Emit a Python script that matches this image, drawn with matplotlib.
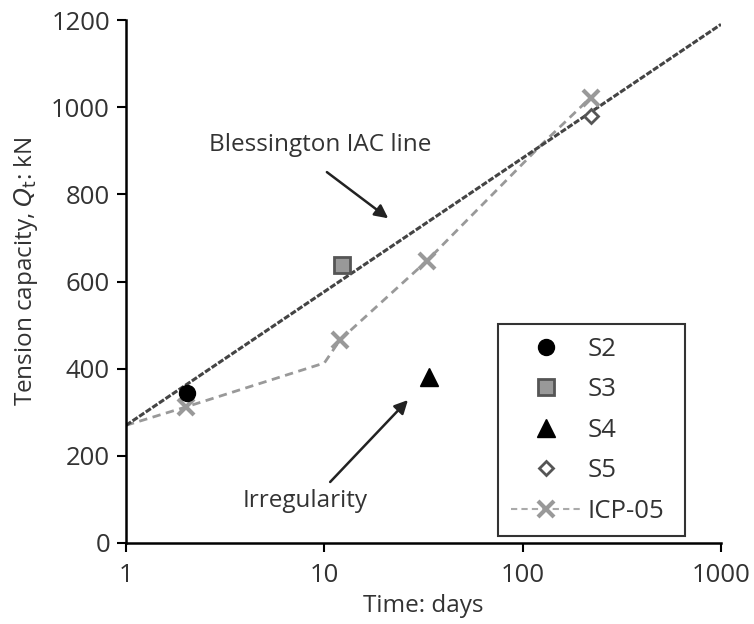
import numpy as np
import matplotlib.pyplot as plt

plt.rcParams['font.family'] = ['Open Sans', 'DejaVu Sans']

# --- data ---
iac_days = [1, 1000]
iac_qt = [270, 1190]

icp_days = [1, 2, 10, 12, 33, 127, 220]
icp_qt = [270, 312, 413, 466, 648, 918, 1022]
icp_marked = [2, 12, 33, 220]
icp_marked_qt = [312, 466, 648, 1022]

s2_days, s2_qt = [2.03], [344]
s3_days, s3_qt = [12.3], [638]
s4_days, s4_qt = [33.7], [381]
s5_days, s5_qt = [222], [980]

TXT = '#333333'
FS = 17.5

fig = plt.figure(figsize=(7.54, 6.24), dpi=100)
ax = fig.add_axes([126 / 754, 1 - 543 / 624, (721 - 126) / 754, (543 - 20) / 624])

ax.plot(iac_days, iac_qt, color='#444444', lw=2.2, ls=(0, (2, 0.6)), zorder=2)
ax.plot(icp_days, icp_qt, color='#999999', lw=2, ls=(0, (3, 2)), zorder=1)
ax.plot(icp_marked, icp_marked_qt, ls='none', marker='x', ms=11, mew=3,
        color='#999999', zorder=3)

circ = dict(marker='o', ls='none', color='black', ms=11.5)
sq = dict(marker='s', ls='none', mfc='#999999', mec='#555555', mew=2, ms=11)
tri = dict(marker='^', ls='none', color='black', ms=13)
dia = dict(marker='D', ls='none', mfc='white', mec='#555555', mew=2, ms=7.5)

ax.plot(s2_days, s2_qt, zorder=4, **circ)
ax.plot(s3_days, s3_qt, zorder=4, **sq)
ax.plot(s4_days, s4_qt, zorder=4, **tri)
ax.plot(s5_days, s5_qt, zorder=4, **dia)

# legend handles
h = [
    ax.plot([], [], **circ)[0],
    ax.plot([], [], **sq)[0],
    ax.plot([], [], **tri)[0],
    ax.plot([], [], **dia)[0],
    ax.plot([], [], color='#aaaaaa', lw=1.5, ls=(0, (3, 2)), marker='x',
            ms=11, mew=3, mec='#999999')[0],
]
leg_x0 = (498 - 126) / 595
leg_top = (543 - 324) / 523
leg_w = (685 - 498) / 595
leg = ax.legend(h, ['S2', 'S3', 'S4', 'S5', 'ICP-05'], loc='upper left',
                bbox_to_anchor=(leg_x0, 0, leg_w, leg_top), mode='expand',
                borderaxespad=0, frameon=True, fancybox=False,
                edgecolor='black', fontsize=18.5, labelspacing=0.6,
                handlelength=2.7, handletextpad=0.3, borderpad=0.5,
                labelcolor=TXT)
leg.get_frame().set_linewidth(1.5)

ax.text(9.5, 914, 'Blessington IAC line', fontsize=FS, color=TXT,
        ha='center', va='center')
ax.annotate('', xy=(21, 745), xytext=(10.3, 851),
            arrowprops=dict(arrowstyle='-|>', color='#222222', lw=1.8,
                            shrinkA=0, shrinkB=0, mutation_scale=20))
ax.text(8.0, 96, 'Irregularity', fontsize=FS, color=TXT,
        ha='center', va='center')
ax.annotate('', xy=(26.4, 328), xytext=(10.7, 140),
            arrowprops=dict(arrowstyle='-|>', color='#222222', lw=1.8,
                            shrinkA=0, shrinkB=0, mutation_scale=20))

ax.set_xscale('log')
ax.set_xlim(1, 1000)
ax.set_ylim(0, 1200)
ax.set_xticks([1, 10, 100, 1000])
ax.set_xticklabels(['1', '10', '100', '1000'])
ax.minorticks_off()
ax.set_yticks(np.arange(0, 1201, 200))

ax.spines['top'].set_visible(False)
ax.spines['right'].set_visible(False)
for s in ['left', 'bottom']:
    ax.spines[s].set_linewidth(1.8)
ax.tick_params(labelsize=18.5, colors='black', labelcolor=TXT, width=1.5, length=6.5)
ax.tick_params(axis='x', pad=8)
ax.tick_params(axis='y', pad=5)

ax.set_xlabel('Time: days', fontsize=FS, color=TXT, labelpad=4)
ax.set_ylabel('Tension capacity, $Q_\\mathrm{t}$: kN', fontsize=FS, color=TXT)
ax.yaxis.set_label_coords(-0.145, 0.52)

fig.savefig('out.png', dpi=100)
